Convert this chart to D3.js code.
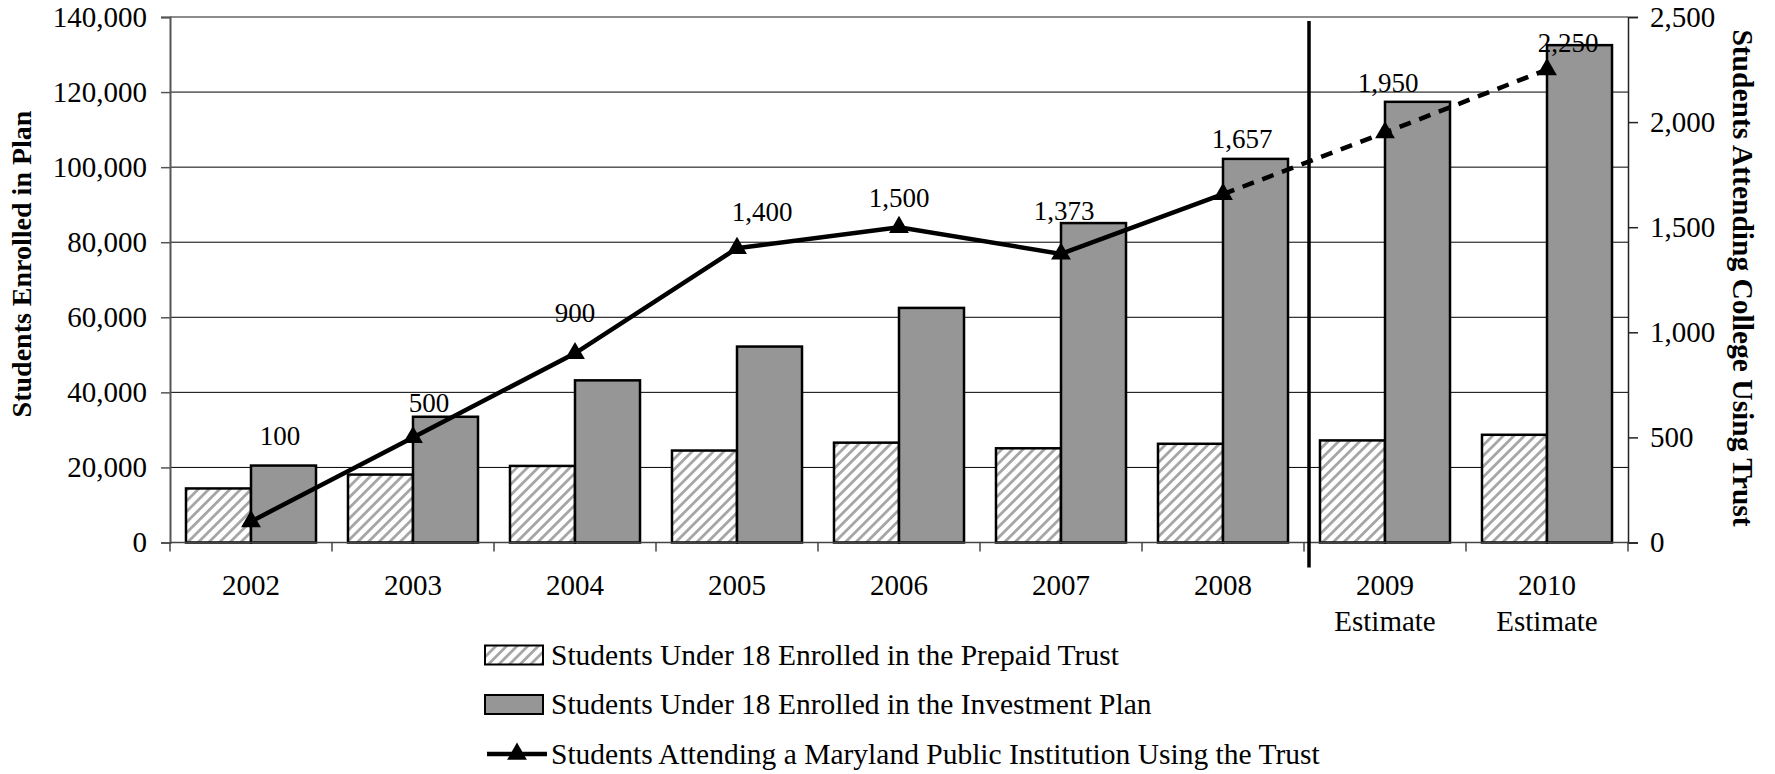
<!DOCTYPE html>
<html>
<head>
<meta charset="utf-8">
<script src="https://cdn.jsdelivr.net/npm/d3@7"></script>
<style>
  body { margin: 0; background: #fff; }
  text { font-family: "Liberation Serif", "Times New Roman", serif; fill: #000; }
</style>
</head>
<body>
<div id="chart"></div>
<script>
// data
const years = ["2002", "2003", "2004", "2005", "2006", "2007", "2008", "2009", "2010"];
const yearLabels = [["2002"], ["2003"], ["2004"], ["2005"], ["2006"], ["2007"], ["2008"],
    ["2009", "Estimate"], ["2010", "Estimate"]];
const prepaid = [14400, 18100, 20400, 24500, 26600, 25100, 26300, 27200, 28700];
const investment = [20500, 33500, 43200, 52200, 62500, 85100, 102200, 117400, 132500];
const attending = [100, 500, 900, 1400, 1500, 1373, 1657, 1950, 2250];
const leftTicks = [0, 20000, 40000, 60000, 80000, 100000, 120000, 140000];
const rightTicks = [0, 500, 1000, 1500, 2000, 2500];
const lastActual = 6; // index of 2008, the line is dashed after it
const seriesNames = [
    "Students Under 18 Enrolled in the Prepaid Trust",
    "Students Under 18 Enrolled in the Investment Plan",
    "Students Attending a Maryland Public Institution Using the Trust"
];
// hand placed label nudges (dx, dy) like in the original
const labelNudge = [[29, -76], [16, -25], [0, -31], [25, -27], [0, -20], [3, -34], [19, -46], [3, -41], [21, -18]];

const width = 1775, height = 774;
const margin = { top: 17, right: 147, bottom: 231.5, left: 170 };
const plot_width = width - margin.left - margin.right;
const plot_height = height - margin.top - margin.bottom;

const svg = d3.select("#chart")
    .append("svg")
    .attr("width", width)
    .attr("height", height);

// stripe pattern for the prepaid bars
const defs = svg.append("defs");
const pat = defs.append("pattern")
    .attr("id", "hatch")
    .attr("patternUnits", "userSpaceOnUse")
    .attr("width", 7.5)
    .attr("height", 7.5)
    .attr("patternTransform", "rotate(45)");
pat.append("rect").attr("width", 7.5).attr("height", 7.5).attr("fill", "#fff");
pat.append("rect").attr("x", 0).attr("width", 2.8).attr("height", 7.5).attr("fill", "#a6a6a6");

const g = svg.append("g")
    .attr("transform", "translate(" + margin.left + "," + margin.top + ")");

// scales
const x = d3.scaleBand().domain(years).range([0, plot_width]).padding(0);
const x1 = d3.scaleBand().domain(["prepaid", "investment"])
    .range([0, x.bandwidth()]).paddingInner(0).paddingOuter(0.246);
const y = d3.scaleLinear().domain([0, 140000]).range([plot_height, 0]);
const y2 = d3.scaleLinear().domain([0, 2500]).range([plot_height, 0]);

// gridlines
g.selectAll(".grid")
    .data(leftTicks.filter(d => d > 0 && d < 140000))
    .enter()
    .append("line")
    .attr("x1", 0)
    .attr("x2", plot_width)
    .attr("y1", d => y(d))
    .attr("y2", d => y(d))
    .attr("stroke", "#000")
    .attr("stroke-width", 1);
// top border of plot area
g.append("line")
    .attr("x1", 0).attr("x2", plot_width)
    .attr("y1", y(140000)).attr("y2", y(140000))
    .attr("stroke", "#8c8c8c").attr("stroke-width", 2);

// bars
const cats = years.map((yr, i) => ({ year: yr, prepaid: prepaid[i], investment: investment[i], att: attending[i], i: i }));

g.selectAll(".prepaid")
    .data(cats)
    .enter()
    .append("rect")
    .attr("x", d => x(d.year) + x1("prepaid"))
    .attr("y", d => y(d.prepaid))
    .attr("width", x1.bandwidth())
    .attr("height", d => y(0) - y(d.prepaid))
    .attr("fill", "url(#hatch)")
    .attr("stroke", "#000")
    .attr("stroke-width", 2.5);

g.selectAll(".investment")
    .data(cats)
    .enter()
    .append("rect")
    .attr("x", d => x(d.year) + x1("investment"))
    .attr("y", d => y(d.investment))
    .attr("width", x1.bandwidth())
    .attr("height", d => y(0) - y(d.investment))
    .attr("fill", "#969696")
    .attr("stroke", "#000")
    .attr("stroke-width", 2.5);

// left axis
const leftAxis = g.append("g")
    .call(d3.axisLeft(y).tickValues(leftTicks).tickSize(9).tickPadding(14).tickFormat(d3.format(",")));
leftAxis.attr("font-family", null);
leftAxis.select(".domain").attr("stroke", "#555").attr("stroke-width", 2);
leftAxis.selectAll(".tick line").attr("stroke", "#555").attr("stroke-width", 1.5);
leftAxis.selectAll("text").style("font-size", "29px");

// right axis
const rightAxis = g.append("g")
    .attr("transform", "translate(" + plot_width + ",0)")
    .call(d3.axisRight(y2).tickValues(rightTicks).tickSize(10).tickPadding(12).tickFormat(d3.format(",")));
rightAxis.attr("font-family", null);
rightAxis.select(".domain").attr("stroke", "#222").attr("stroke-width", 1.5);
rightAxis.selectAll(".tick line").attr("stroke", "#222").attr("stroke-width", 1.5);
rightAxis.selectAll("text").style("font-size", "29px");

// bottom axis: ticks on the band edges
const bottom = g.append("g").attr("transform", "translate(0," + plot_height + ")");
bottom.append("line")
    .attr("x1", 0).attr("x2", plot_width)
    .attr("stroke", "#444").attr("stroke-width", 1.5);
bottom.selectAll(".edge")
    .data(years.slice(1))
    .enter()
    .append("line")
    .attr("x1", d => x(d)).attr("x2", d => x(d))
    .attr("y1", 0).attr("y2", 9)
    .attr("stroke", "#444").attr("stroke-width", 1.5);
bottom.append("line")
    .attr("x1", 0).attr("x2", 0).attr("y1", 0).attr("y2", 9)
    .attr("stroke", "#444").attr("stroke-width", 1.5);
bottom.append("line")
    .attr("x1", plot_width).attr("x2", plot_width).attr("y1", 0).attr("y2", 9)
    .attr("stroke", "#444").attr("stroke-width", 1.5);

const xl = bottom.selectAll(".xlab")
    .data(yearLabels)
    .enter()
    .append("text")
    .attr("text-anchor", "middle")
    .style("font-size", "29px")
    .attr("transform", (d, i) => "translate(" + (x(years[i]) + x.bandwidth() / 2) + ",52)");
xl.selectAll("tspan")
    .data(d => d)
    .enter()
    .append("tspan")
    .attr("x", 0)
    .attr("y", (d, j) => j * 36)
    .text(d => d);

// separator between actual and estimate
g.append("line")
    .attr("x1", x(years[lastActual + 1]) + 5)
    .attr("x2", x(years[lastActual + 1]) + 5)
    .attr("y1", 4)
    .attr("y2", plot_height + 25)
    .attr("stroke", "#000")
    .attr("stroke-width", 3.5);

// line series
const line = d3.line()
    .x(d => x(d.year) + x.bandwidth() / 2)
    .y(d => y2(d.att));

g.append("path")
    .datum(cats.slice(0, lastActual + 1))
    .attr("d", line)
    .attr("fill", "none")
    .attr("stroke", "#000")
    .attr("stroke-width", 4.5);
g.append("path")
    .datum(cats.slice(lastActual))
    .attr("d", line)
    .attr("fill", "none")
    .attr("stroke", "#000")
    .attr("stroke-width", 4.5)
    .attr("stroke-dasharray", "12,9");

const tri = d3.symbol().type(d3.symbolTriangle).size(170);
g.selectAll(".marker")
    .data(cats)
    .enter()
    .append("path")
    .attr("d", tri)
    .attr("transform", d => "translate(" + (x(d.year) + x.bandwidth() / 2) + "," + y2(d.att) + ")")
    .attr("fill", "#000");

g.selectAll(".dlabel")
    .data(cats)
    .enter()
    .append("text")
    .attr("text-anchor", "middle")
    .style("font-size", "27px")
    .attr("x", d => x(d.year) + x.bandwidth() / 2 + labelNudge[d.i][0])
    .attr("y", d => y2(d.att) + labelNudge[d.i][1])
    .text(d => d3.format(",")(d.att));

// axis titles
svg.append("text")
    .attr("transform", "translate(31," + (margin.top + 247) + ") rotate(-90)")
    .attr("text-anchor", "middle")
    .style("font-size", "28px")
    .style("font-weight", "bold")
    .text("Students Enrolled in Plan");
svg.append("text")
    .attr("transform", "translate(1733," + (margin.top + 261) + ") rotate(90)")
    .attr("text-anchor", "middle")
    .style("font-size", "29.5px")
    .style("font-weight", "bold")
    .text("Students Attending College Using Trust");

// legend
const legend = svg.append("g").attr("transform", "translate(485,655)");
const rows = legend.selectAll(".row")
    .data(seriesNames)
    .enter()
    .append("g")
    .attr("transform", (d, i) => "translate(0," + i * 49.5 + ")");

rows.filter((d, i) => i < 2)
    .append("rect")
    .attr("x", 0).attr("y", -9.5)
    .attr("width", 58).attr("height", 19)
    .attr("fill", (d, i) => i === 0 ? "url(#hatch)" : "#969696")
    .attr("stroke", "#000")
    .attr("stroke-width", 2);

const lineRow = rows.filter((d, i) => i === 2);
lineRow.append("line")
    .attr("x1", 2).attr("x2", 62)
    .attr("stroke", "#000").attr("stroke-width", 4.5);
lineRow.append("path")
    .attr("d", tri)
    .attr("transform", "translate(32,0)")
    .attr("fill", "#000");

rows.append("text")
    .attr("x", 66)
    .attr("dy", "0.33em")
    .style("font-size", "29.5px")
    .text(d => d);
</script>
</body>
</html>
